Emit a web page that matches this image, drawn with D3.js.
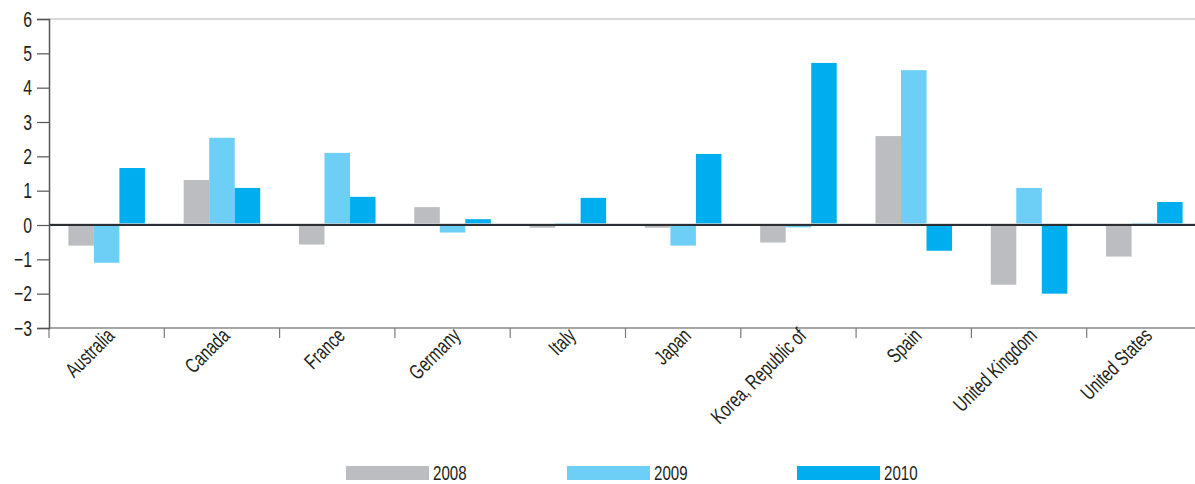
<!DOCTYPE html>
<html>
<head>
<meta charset="utf-8">
<script src="https://cdn.jsdelivr.net/npm/d3@7/dist/d3.min.js"></script>
<style>
  html, body { margin: 0; padding: 0; background: #fff; }
  svg { display: block; }
  text { font-family: "Liberation Sans", Arial, sans-serif; fill: #231f20; }
</style>
</head>
<body>
<svg id="chart" width="1195" height="484"></svg>
<script>
const categories = ["Australia", "Canada", "France", "Germany", "Italy", "Japan", "Korea, Republic of", "Spain", "United Kingdom", "United States"];
const years = ["2008", "2009", "2010"];
const values2008 = [-0.6, 1.31, -0.57, 0.52, -0.08, -0.08, -0.51, 2.59, -1.74, -0.92];
const values2009 = [-1.1, 2.54, 2.1, -0.22, 0.06, -0.6, -0.07, 4.51, 1.08, 0.06];
const values2010 = [1.66, 1.08, 0.82, 0.17, 0.79, 2.07, 4.72, -0.75, -2.0, 0.67];
const yTicks = [-3, -2, -1, 0, 1, 2, 3, 4, 5, 6];
const colors = ["#bcbdc1", "#6dcff6", "#00aeef"];

const seriesValues = [values2008, values2009, values2010];
const svg = d3.select("#chart");
const W = 1195;
const mLeft = 49, mRight = 1202, mTop = 19, mBottom = 328;
const narrow = 0.72;

const x = d3.scaleBand().domain(categories).range([mLeft, mRight]).padding(0);
const bw = x.bandwidth();
const x1 = d3.scaleBand().domain(years).range([bw * 0.168, bw * 0.832]).padding(0);
const y = d3.scaleLinear().domain([-3, 6]).range([mBottom, mTop]);

// top gridline
svg.append("line").attr("x1", mLeft).attr("x2", W).attr("y1", y(6)).attr("y2", y(6))
  .attr("stroke", "#b5b5b5").attr("stroke-width", 1.2);

// bars
const groups = svg.append("g").selectAll("g").data(categories).join("g")
  .attr("transform", d => `translate(${x(d)},0)`);
groups.selectAll("rect")
  .data((d, i) => years.map((yr, k) => ({ yr, k, v: seriesValues[k][i] })))
  .join("rect")
  .attr("x", d => x1(d.yr))
  .attr("width", x1.bandwidth())
  .attr("y", d => y(Math.max(0, d.v)))
  .attr("height", d => Math.abs(y(d.v) - y(0)))
  .attr("fill", d => colors[d.k]);

// zero line
svg.append("line").attr("x1", mLeft).attr("x2", W).attr("y1", y(0) - 1.2).attr("y2", y(0) - 1.2)
  .attr("stroke", "#d0d0d0").attr("stroke-width", 1);
svg.append("line").attr("x1", mLeft).attr("x2", W).attr("y1", y(0)).attr("y2", y(0))
  .attr("stroke", "#2b2f33").attr("stroke-width", 1.8);

// bottom axis line
svg.append("line").attr("x1", mLeft).attr("x2", W).attr("y1", mBottom).attr("y2", mBottom)
  .attr("stroke", "#8a8a8a").attr("stroke-width", 1.5);

// category ticks at band boundaries
svg.append("g").selectAll("line").data(categories).join("line")
  .attr("x1", d => x(d)).attr("x2", d => x(d))
  .attr("y1", mBottom).attr("y2", mBottom + 10)
  .attr("stroke", "#7a7a7a").attr("stroke-width", 1.2);

// category labels
svg.append("g").selectAll("text").data(categories).join("text")
  .attr("transform", d => `translate(${x(d) + bw / 2 + 9},${mBottom + 9}) rotate(-45) scale(${narrow},1)`)
  .attr("text-anchor", "end")
  .attr("font-size", 21)
  .text(d => d);

// y axis
const yAxis = d3.axisLeft(y).tickValues(yTicks).tickSize(12).tickPadding(6)
  .tickFormat(d3.format("d"));
const ya = svg.append("g").attr("transform", `translate(${mLeft},0)`).call(yAxis);
ya.select(".domain").attr("stroke", "#555").attr("stroke-width", 1.5);
ya.selectAll(".tick line").attr("stroke", "#555").attr("stroke-width", 1.2);
ya.selectAll(".tick text")
  .attr("x", 0)
  .attr("transform", `translate(-17,0) scale(${narrow},1)`)
  .attr("font-size", 22).attr("fill", "#231f20")
  .style("font-family", "'Liberation Sans', Arial, sans-serif");

// legend
const legendX = [346, 567, 797];
const lg = svg.append("g").selectAll("g").data(years).join("g")
  .attr("transform", (d, i) => `translate(${legendX[i]},466)`);
lg.append("rect").attr("width", 83).attr("height", 14).attr("fill", (d, i) => colors[i]);
lg.append("text").attr("transform", `translate(87,13.8) scale(${narrow},1)`)
  .attr("font-size", 21).text(d => d);
</script>
</body>
</html>
